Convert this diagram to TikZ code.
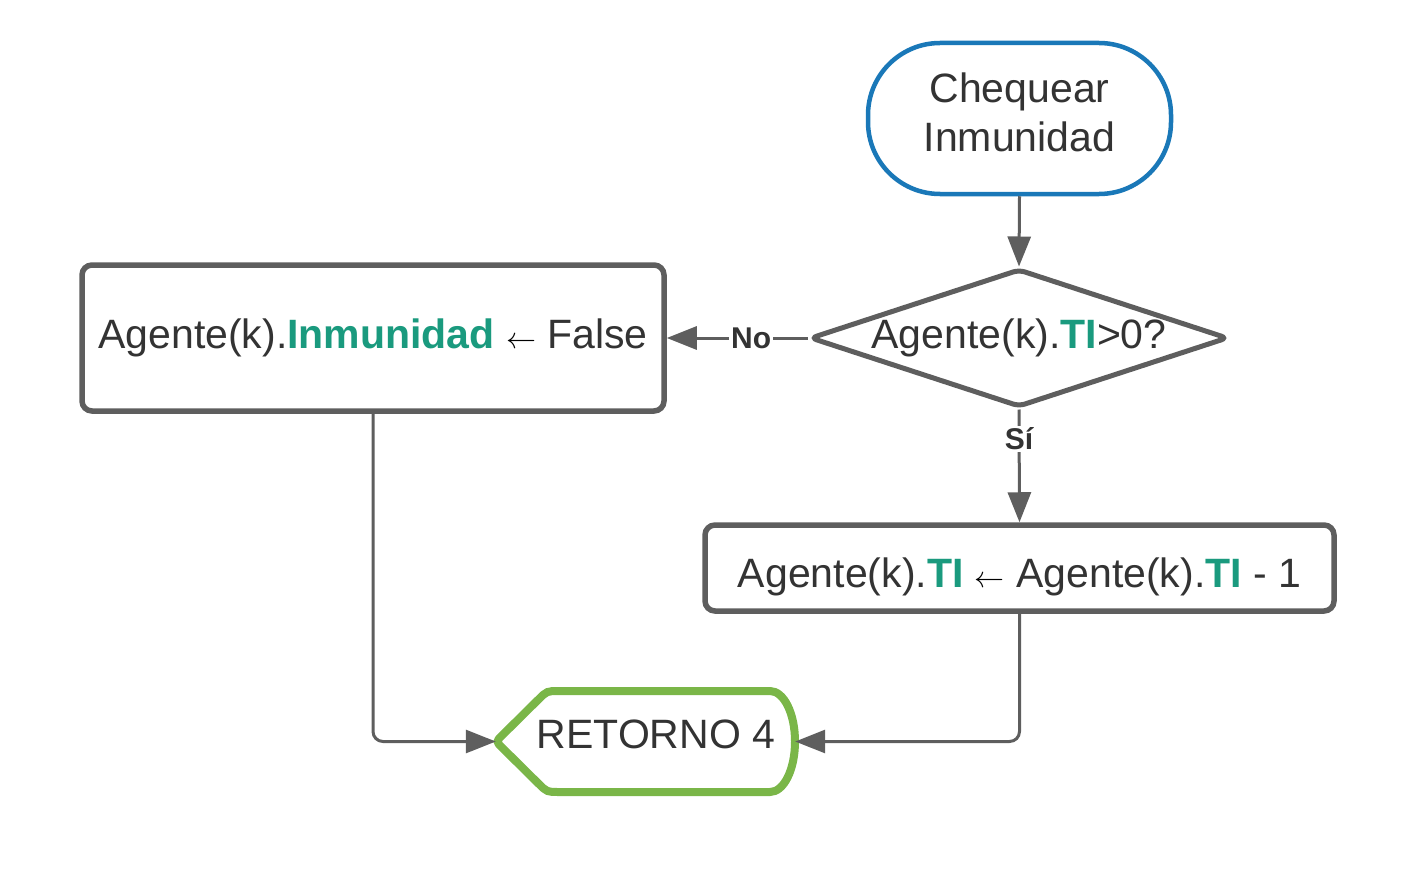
\documentclass[tikz,border=0pt]{standalone}
\usepackage{fix-cm}
\usepackage{graphicx}
\usepackage{fontspec}
\setmainfont{Liberation Sans}
\usetikzlibrary{arrows.meta,shapes.geometric}
\definecolor{lgray}{HTML}{5E5E5E}
\definecolor{txt}{HTML}{333333}
\definecolor{tealtx}{HTML}{1A9A7E}
\definecolor{bluestk}{HTML}{1A78B8}
\definecolor{greenstk}{HTML}{7AB648}
\newcommand\grnb[1]{\textcolor{tealtx}{\textbf{#1}}}
\newcommand\larr{{\color{black}\resizebox{30pt}{!}{$\leftarrow$}}}
\tikzset{
  mainfont/.style={font=\fontsize{41}{49}\selectfont},
  procbox/.style={draw=lgray, line width=5.5pt, rounded corners=10pt, fill=white,
    text=txt, mainfont, inner sep=0pt},
  conn/.style={draw=lgray, line width=3pt, -{Triangle[length=30pt,width=23pt]}},
  lbl/.style={fill=white, text=txt, font=\fontsize{30}{36}\selectfont\bfseries, inner sep=2pt},
}
\begin{document}
\begin{tikzpicture}[x=1pt,y=-1pt]
\useasboundingbox (0,0) rectangle (1408,872);
% nodes
\node[draw=bluestk, line width=4.5pt, rounded corners=72pt, fill=white, text=txt,
  mainfont, align=center, minimum width=303pt, minimum height=151pt, inner sep=0pt,
  text depth=13pt]
  (term) at (1019.5,118.5) {Chequear\\Inmunidad};
\node[diamond, draw=lgray, line width=5pt, rounded corners=6pt, fill=white, text=txt,
  mainfont, aspect=3, inner sep=0pt, minimum width=418pt, minimum height=138pt]
  (dec) at (1019,338) {Agente(k).\grnb{TI}>0?};
\node[procbox, minimum width=582pt, minimum height=146pt] (lbox) at (373,338)
  {Agente(k).\grnb{Inmunidad} \larr{} False};
\node[procbox, minimum width=629pt, minimum height=86pt, text height=39pt, text depth=0pt]
  (rbox) at (1019.5,568)
  {Agente(k).\grnb{TI} \larr{} Agente(k).\grnb{TI} - 1};
\node[text=txt, mainfont, minimum width=299pt, minimum height=102pt, inner sep=0pt,
  text depth=15pt]
  (ret) at (645.5,741.5) {\hspace*{21pt}RETORNO 4};
\draw[draw=greenstk, line width=8pt]
  (600,691) -- (770,691)
  .. controls (783.8,691) and (795,713.3) .. (795,741.5)
  .. controls (795,769.7) and (783.8,792) .. (770,792)
  -- (559,792) .. controls (547,792) .. (538.5,783.6)
  -- (502,747.5) .. controls (496,741.5) .. (502,735.5)
  -- (538.5,699.4) .. controls (547,691) .. (559,691) -- cycle;
% connectors
\draw[conn] (term.south) -- (dec.north);
\draw[conn] (dec.west) -- node[lbl, pos=0.4] {No} (lbox.east);
\draw[conn] (dec.south) -- node[lbl, pos=0.26] {Sí} (rbox.north);
\draw[conn, rounded corners=10pt] (lbox.south) |- (ret.west);
\draw[conn, rounded corners=10pt] (rbox.south) |- (ret.east);
\end{tikzpicture}
\end{document}
